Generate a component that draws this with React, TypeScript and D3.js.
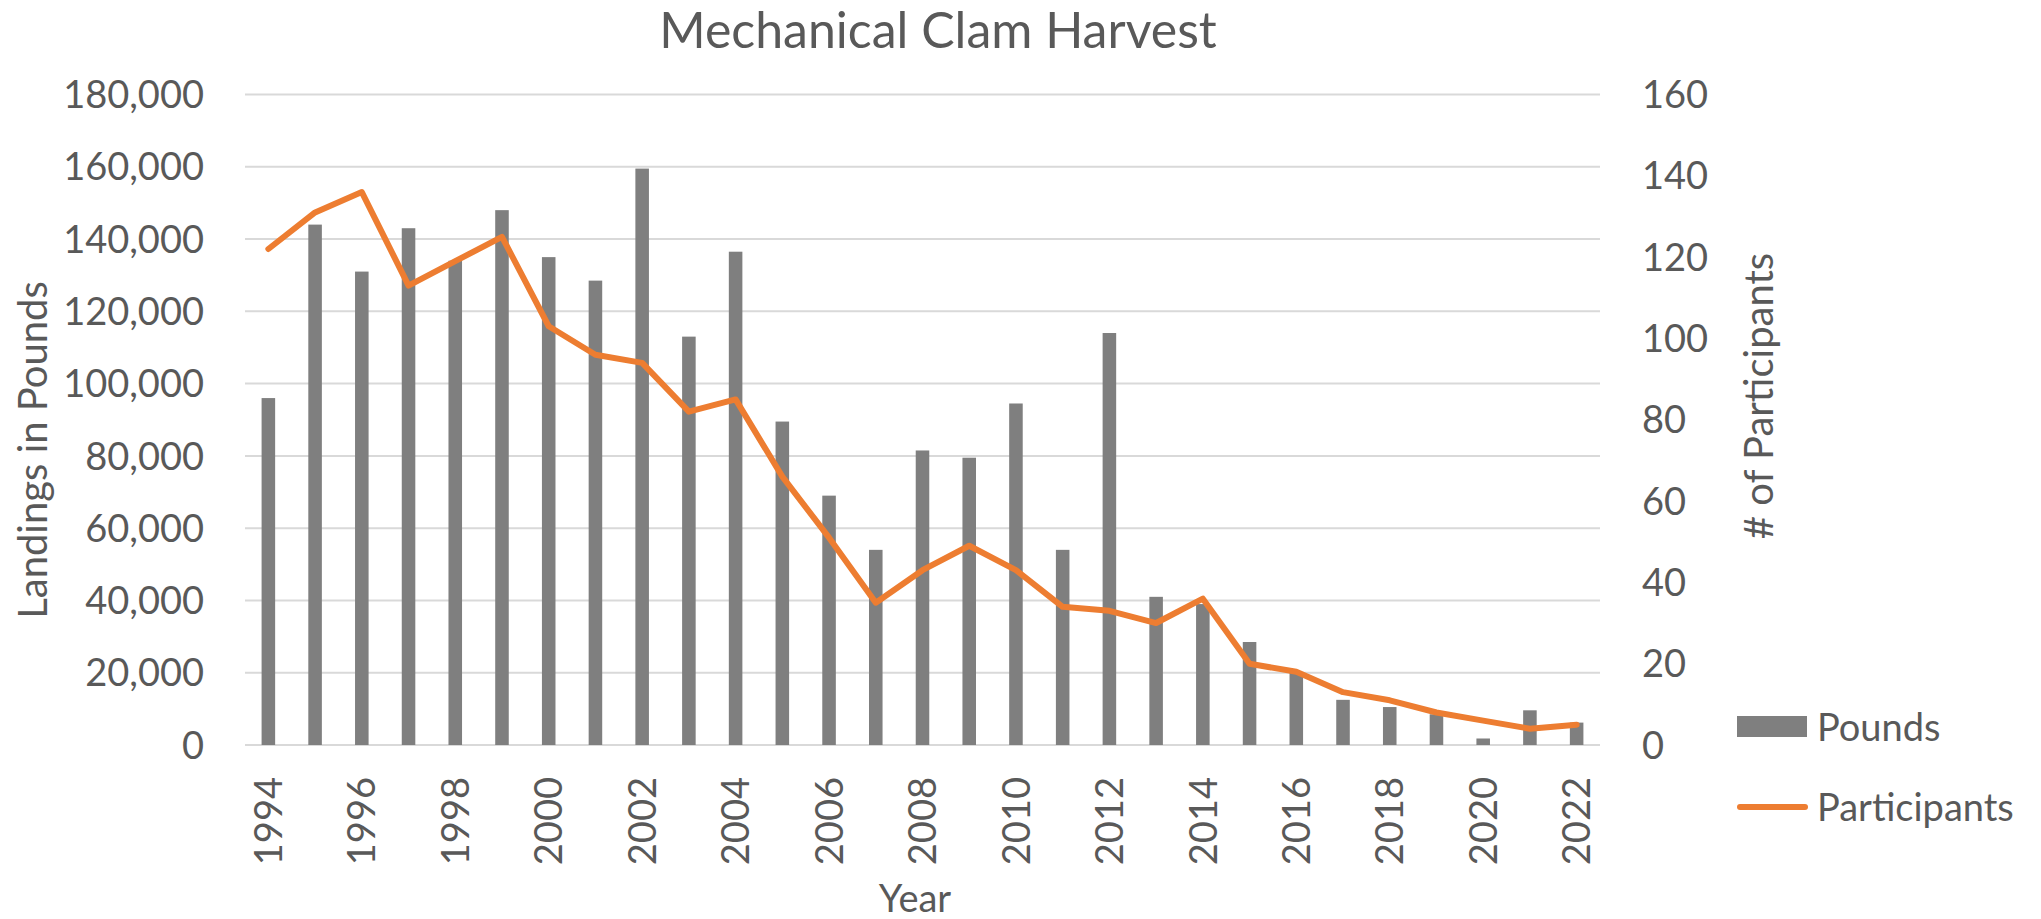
import React from 'react'
import * as d3 from 'd3'

const years = [1994, 1995, 1996, 1997, 1998, 1999, 2000, 2001, 2002, 2003, 2004, 2005, 2006, 2007, 2008,
  2009, 2010, 2011, 2012, 2013, 2014, 2015, 2016, 2017, 2018, 2019, 2020, 2021, 2022]

const pounds = [96000, 144000, 131000, 143000, 134000, 148000, 135000, 128500, 159500, 113000, 136500,
  89500, 69000, 54000, 81500, 79500, 94500, 54000, 114000, 41000, 39000, 28500, 20000, 12500, 10500,
  8500, 1800, 9600, 6200]

const participants = [122, 131, 136, 113, 119, 125, 103, 96, 94, 82, 85, 66, 51, 35, 43, 49, 43, 34, 33,
  30, 36, 20, 18, 13, 11, 8, 6, 4, 5]

const yearTicks = [1994, 1996, 1998, 2000, 2002, 2004, 2006, 2008, 2010, 2012, 2014, 2016, 2018, 2020, 2022]
const poundTicks = [0, 20000, 40000, 60000, 80000, 100000, 120000, 140000, 160000, 180000]
const participantTicks = [0, 20, 40, 60, 80, 100, 120, 140, 160]

const W = 2041
const H = 919
const FONT = 'Lato, "Open Sans", "Noto Sans", sans-serif'
const TEXT = '#595959'

export default function App() {
  const x = d3.scaleBand<number>().domain(years).range([245, 1600]).padding(0)
  const yL = d3.scaleLinear().domain([0, 180000]).range([745, 94.5])
  const yR = d3.scaleLinear().domain([0, 160]).range([745, 94.5])
  const fmt = d3.format(',')
  const barW = x.bandwidth() * 0.29

  const line = d3.line<number>()
    .x((_, i) => (x(years[i]) ?? 0) + x.bandwidth() / 2)
    .y(d => yR(d))

  return (
    <svg width={W} height={H} style={{ position: 'absolute', left: 0, top: 0, background: '#fff' }}
      fontFamily={FONT}>
      <text x={938} y={48} textAnchor="middle" fontSize={50} fill={TEXT}>
        Mechanical Clam Harvest
      </text>

      {/* gridlines */}
      {poundTicks.map(t => (
        <line key={t} x1={245} x2={1600} y1={yL(t)} y2={yL(t)} stroke="#d9d9d9" strokeWidth={2} />
      ))}

      {/* left ticks */}
      {poundTicks.map(t => (
        <text key={t} x={204} y={yL(t)} dy="0.36em" textAnchor="end" fontSize={38} fill={TEXT}>
          {fmt(t)}
        </text>
      ))}

      {/* right ticks */}
      {participantTicks.map(t => (
        <text key={t} x={1642} y={yR(t)} dy="0.36em" textAnchor="start" fontSize={38} fill={TEXT}>
          {t}
        </text>
      ))}

      {/* bars */}
      {pounds.map((v, i) => {
        const cx = (x(years[i]) ?? 0) + x.bandwidth() / 2
        return <rect key={years[i]} x={cx - barW / 2} y={yL(v)} width={barW} height={yL(0) - yL(v)} fill="#7f7f7f" />
      })}

      {/* participants line */}
      <path d={line(participants) ?? ''} fill="none" stroke="#ed7d31" strokeWidth={6}
        strokeLinejoin="round" strokeLinecap="round" />

      {/* x tick labels */}
      {yearTicks.map(t => {
        const cx = (x(t) ?? 0) + x.bandwidth() / 2
        return (
          <text key={t} transform={`translate(${cx},777) rotate(-90)`} dy="0.36em" textAnchor="end"
            fontSize={38} fill={TEXT}>
            {t}
          </text>
        )
      })}

      <text x={915} y={912} textAnchor="middle" fontSize={38} fill={TEXT}>Year</text>

      <text transform="translate(47,450) rotate(-90)" textAnchor="middle" fontSize={40} fill={TEXT}>
        Landings in Pounds
      </text>
      <text transform="translate(1773,396) rotate(-90)" textAnchor="middle" fontSize={40} fill={TEXT}>
        # of Participants
      </text>

      {/* legend */}
      <rect x={1737} y={716} width={70} height={21} fill="#7f7f7f" />
      <text x={1817} y={727} dy="0.36em" fontSize={38} fill={TEXT}>Pounds</text>
      <line x1={1740} x2={1805} y1={807} y2={807} stroke="#ed7d31" strokeWidth={6} strokeLinecap="round" />
      <text x={1817} y={807} dy="0.36em" fontSize={38} fill={TEXT}>Participants</text>
    </svg>
  )
}
